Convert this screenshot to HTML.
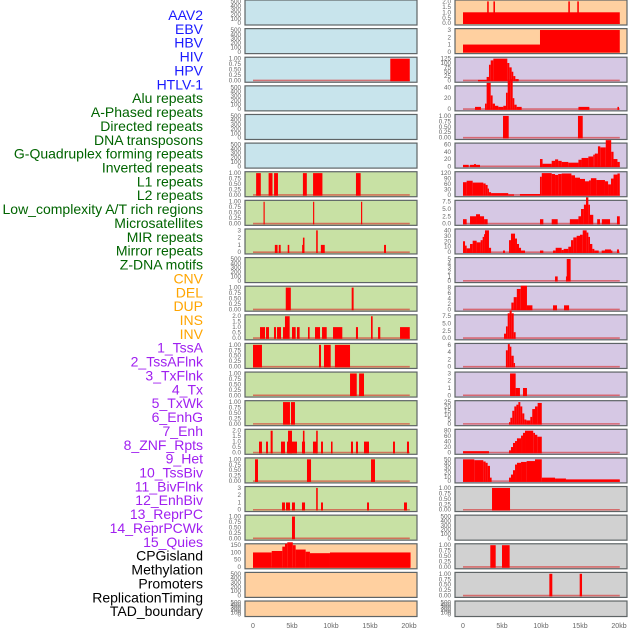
<!DOCTYPE html>
<html><head><meta charset="utf-8"><style>
html,body{margin:0;padding:0;background:#fff;width:630px;height:630px;overflow:hidden}
svg{display:block;font-family:"Liberation Sans",sans-serif}
</style></head><body>
<svg id="chart" width="630" height="630" viewBox="0 0 630 630" xmlns="http://www.w3.org/2000/svg"></svg>
<script>
// ---- track names ----
const labels=["AAV2","EBV","HBV","HIV","HPV","HTLV-1","Alu repeats","A-Phased repeats","Directed repeats","DNA transposons","G-Quadruplex forming repeats","Inverted repeats","L1 repeats","L2 repeats","Low_complexity A/T rich regions","Microsatellites","MIR repeats","Mirror repeats","Z-DNA motifs","CNV","DEL","DUP","INS","INV","1_TssA","2_TssAFlnk","3_TxFlnk","4_Tx","5_TxWk","6_EnhG","7_Enh","8_ZNF_Rpts","9_Het","10_TssBiv","11_BivFlnk","12_EnhBiv","13_ReprPC","14_ReprPCWk","15_Quies","CPGisland","Methylation","Promoters","ReplicationTiming","TAD_boundary"];
const labelGroups=["v","v","v","v","v","v","r","r","r","r","r","r","r","r","r","r","r","r","r","s","s","s","s","s","c","c","c","c","c","c","c","c","c","c","c","c","c","c","c","o","o","o","o","o"];
// ---- tick label sets ----
const T500=["0","100","200","300","400","500"];
const T1=["0.00","0.25","0.50","0.75","1.00"];
const T2=["0.0","0.5","1.0","1.5","2.0"];
const T3=["0","1","2","3"];
const T150=["0","50","100","150"];
const T125=["0","25","50","75","100","125"];
const T40=["0","20","40"];
const T60=["0","20","40","60"];
const T120=["0","30","60","90","120"];
const T75=["0.0","2.5","5.0","7.5"];
const T40b=["0","10","20","30","40"];
const T5=["0","1","2","3","4","5"];
const T8=["0","2","4","6","8"];
const T6=["0","2","4","6"];
const T25=["0","5","10","15","20","25"];
const T80=["0","20","40","60","80"];
const T50=["0","10","20","30","40","50"];
const xTicks=[0,5,10,15,20];
const xTickLabels=["0","5kb","10kb","15kb","20kb"];
// ---- segment data [startKb,endKb,value] ----
const L3=[[17.6,20.1,1]];
const L7=[[0.4,1.0,1],[2.0,2.5,1],[2.7,3.2,1],[6.4,6.9,1],[7.7,8.9,1],[13.2,13.8,1]];
const L8=[[1.35,1.5,1],[7.7,7.85,1],[13.85,14.0,1]];
const L9=[[2.8,3.15,1],[3.3,3.55,1],[4.45,4.65,1],[6.3,6.5,1],[6.4,6.6,2],[8.1,8.3,3],[8.7,9.2,1],[16.8,17.05,1]];
const L11=[[4.2,4.85,1],[12.65,12.9,1]];
const L12=[[0.9,1.54,1],[1.67,2.05,1],[2.69,2.95,1],[3.08,3.59,1],[3.85,4.1,1],[4.1,4.7,2],[5.0,5.47,1],[5.64,5.98,1],[7.05,7.26,1],[7.95,8.59,1],[8.85,9.45,1],[10.26,11.45,1],[13.2,13.46,1],[15.13,15.34,2],[16.03,16.32,1],[18.85,20.1,1]];
const L13=[[0,1.15,1],[8.46,8.72,1],[9.1,9.96,1],[10.5,12.44,1]];
const L14=[[12.44,13.3,1],[13.6,14.23,1]];
const L15=[[3.85,4.74,1],[4.87,5.38,1]];
const L16=[[0.77,1.15,1],[1.67,1.92,1],[2.26,2.52,2],[3.59,4.1,1],[4.36,5.64,1],[4.49,5.0,2],[6.28,6.67,1],[6.4,6.6,2],[7.69,8.21,1],[8.1,8.3,2],[8.72,8.97,1],[10.0,10.2,1],[12.56,12.82,1],[13.2,13.46,1],[14.23,14.87,1],[17.95,18.2,1],[19.74,20.0,1]];
const L17=[[0.26,0.64,1],[6.92,7.44,1],[15.13,15.64,1]];
const L18=[[3.72,4.1,1],[4.23,4.74,1],[5.0,5.38,1],[6.28,6.67,1],[8.1,8.3,3],[8.72,8.97,1],[14.62,14.87,1],[19.36,19.74,1]];
const L19=[[5.0,5.38,1]];
const L20=[[0,2.4,100],[2.4,3.76,110],[3.76,4.1,140],[4.1,4.4,160],[4.4,5.1,170],[5.1,5.47,150],[5.47,6.75,120],[6.75,7.3,105],[7.3,9.87,95],[9.87,20.2,100]];
const R1=[[0,20.1,1],[3.1,3.3,2],[3.9,4.1,2],[13.5,13.7,2],[14.65,14.85,2]];
const R2=[[0,9.87,1],[9.87,20.1,3]];
const R3=[[1.92,3.03,3],[3.03,3.33,20],[3.33,3.55,90],[3.55,3.89,115],[3.89,5.68,125],[5.68,5.94,100],[5.94,6.24,75],[6.24,6.45,50],[6.45,6.71,25],[6.71,7.14,8]];
const R4=[[1.54,2.3,4],[2.82,3.03,10],[3.03,3.55,48],[3.55,3.8,25],[3.8,4.1,10],[4.1,4.53,6],[4.53,5.17,4],[5.17,5.51,6],[5.51,5.73,30],[5.73,6.11,52],[6.11,6.37,55],[6.37,6.58,20],[6.58,6.88,8],[6.88,7.52,4],[14.8,16.2,4],[19.8,20.0,4]];
const R5=[[5.13,5.86,1],[14.74,15.35,1]];
const R6=[[0,0.73,4],[0.9,1.41,4],[1.41,1.67,6],[1.67,2.18,4],[9.87,10.2,20],[10.2,11.37,7],[11.37,11.8,15],[11.8,12.2,19],[12.2,12.65,15],[12.65,13.5,12],[13.5,14.8,10],[14.8,15.2,18],[15.2,16.07,23],[16.07,16.7,27],[16.7,16.9,32],[16.9,17.3,35],[17.3,17.6,55],[17.6,18.3,52],[18.3,19.0,72],[19.0,19.3,40],[19.3,19.8,20],[19.8,20.1,12]];
const R7=[[0,0.47,70],[0.47,1.24,78],[1.24,2.6,68],[2.6,2.9,63],[2.9,3.16,55],[3.16,3.33,35],[3.33,3.6,15],[3.6,5.8,10],[5.8,6.54,3],[7.3,9.87,5],[9.87,10.1,100],[10.1,11.37,120],[11.37,11.8,115],[11.8,12.2,110],[12.2,12.65,115],[12.65,13.9,118],[13.9,14.36,108],[14.36,15.0,95],[15.0,15.64,88],[15.64,16.15,75],[16.15,16.4,80],[16.4,17.1,92],[17.1,18.2,82],[18.2,18.6,75],[18.6,18.97,58],[18.97,19.3,90],[19.3,19.8,112],[19.8,20.1,118]];
const R8=[[0,0.47,1.5],[0.9,1.67,2.5],[1.67,2.18,3.2],[2.18,2.7,2.5],[2.7,3.16,1.5],[9.87,10.3,1.5],[11.37,12.14,1.5],[13.7,14.8,1.5],[14.8,15.13,2.5],[15.13,15.5,5],[15.5,15.77,6.5],[15.77,16.07,9],[16.07,16.28,6.5],[16.28,16.7,3],[17.2,17.56,1.5],[17.8,18.85,1.5],[19.74,20.1,2.5]];
const R9=[[0,0.26,20],[0.26,0.47,12],[0.47,0.9,7],[0.9,1.24,15],[1.24,1.75,21],[1.75,2.26,18],[2.26,2.52,22],[2.52,2.7,28],[2.7,2.82,33],[2.82,3.33,40],[3.33,3.6,8],[5.13,5.38,3],[5.9,6.15,22],[6.15,6.67,34],[6.67,6.92,25],[6.92,7.18,15],[7.18,7.44,8],[7.44,7.95,3],[9.87,10.3,3],[11.54,11.88,3],[11.88,12.65,8],[12.65,12.9,4],[12.9,13.5,6],[13.5,13.85,10],[13.85,14.14,22],[14.14,14.57,27],[14.57,15.0,30],[15.0,15.35,32],[15.35,15.85,40],[15.85,16.07,36],[16.07,16.28,28],[16.28,16.58,15],[16.58,16.84,6],[16.84,17.4,3],[17.78,18.2,3],[18.2,18.97,5],[18.97,19.15,3],[19.74,20.0,5]];
const R10=[[11.8,12.14,1],[13.2,13.3,1],[13.3,13.8,5]];
const R11=[[6.2,6.5,2.5],[6.5,6.9,4.5],[6.9,7.4,7.5],[7.4,8.2,8.7],[8.2,8.9,1.5],[11.54,12.05,1.5],[12.95,13.6,1.5]];
const R12=[[5.26,5.51,1.5],[5.51,5.73,4],[5.73,5.98,8.5],[5.98,6.24,9.5],[6.24,6.5,8.5],[6.5,6.75,2]];
const R13=[[5.5,5.75,4.5],[5.75,6.0,6.2],[6.0,6.2,5.5],[6.2,6.5,3],[6.5,6.67,1]];
const R14=[[6.03,6.75,3],[6.75,7.3,1],[7.69,8.2,1]];
const R15=[[5.9,6.07,2],[6.07,6.32,7],[6.32,6.58,15],[6.58,6.84,20],[6.84,7.1,22],[7.1,7.35,25],[7.35,7.6,20],[7.6,7.86,12],[7.86,8.12,5],[8.12,8.63,4],[8.63,8.88,8],[8.88,9.23,17],[9.23,9.57,20],[9.57,10.1,24]];
const R16=[[0,3.33,5],[5.9,6.15,8],[6.15,6.41,20],[6.41,6.67,35],[6.67,6.92,42],[6.92,7.44,52],[7.44,7.69,62],[7.69,7.95,72],[7.95,9.0,80],[9.0,9.23,72],[9.23,9.53,65],[9.53,10.1,58]];
const R17=[[0,1.45,50],[1.45,2.6,48],[2.6,2.9,45],[2.9,3.16,42],[3.16,3.46,35],[3.46,3.67,8],[5.9,6.15,8],[6.15,6.41,15],[6.41,6.67,25],[6.67,6.92,38],[6.92,7.44,42],[7.44,8.16,44],[8.16,9.23,46],[9.23,10.1,50],[10.1,11.8,8],[11.8,13.2,6],[13.2,20.1,4]];
const R18=[[3.72,6.03,1]];
const R20=[[3.5,4.19,1],[5.0,5.98,1]];
const R21=[[11.07,11.45,1],[14.96,15.26,1]];

const BG={b:"#c8e4ec",g:"#c8e1a4",o:"#ffd0a0",p:"#d6c8e4",y:"#d1d1d1"};
// panel layout: [col,row,bg,ticks,segs,name]
const panels=[
[0,0,"b",T500,null,"aav2"],[0,1,"b",T500,null,"ebv"],[0,2,"b",T1,L3,"hbv"],[0,3,"b",T500,null,"hiv"],[0,4,"b",T500,null,"hpv"],[0,5,"b",T500,null,"htlv1"],
[0,6,"g",T1,L7,"alu"],[0,7,"g",T1,L8,"a-phased"],[0,8,"g",T3,L9,"directed"],[0,9,"g",T500,null,"dna-transposons"],[0,10,"g",T1,L11,"g-quadruplex"],[0,11,"g",T2,L12,"inverted"],[0,12,"g",T1,L13,"l1"],[0,13,"g",T1,L14,"l2"],[0,14,"g",T1,L15,"low-complexity"],[0,15,"g",T2,L16,"microsatellites"],[0,16,"g",T1,L17,"mir"],[0,17,"g",T3,L18,"mirror"],[0,18,"g",T1,L19,"z-dna"],
[0,19,"o",T150,L20,"cpg-left"],[0,20,"o",T500,null,"empty-a"],[0,21,"o",T500,null,"empty-b"],
[1,0,"o",T2,R1,"cnv"],[1,1,"o",T3,R2,"del"],
[1,2,"p",T125,R3,"tssa"],[1,3,"p",T40,R4,"tssaflnk"],[1,4,"p",T1,R5,"txflnk"],[1,5,"p",T60,R6,"tx"],[1,6,"p",T120,R7,"txwk"],[1,7,"p",T75,R8,"enhg"],[1,8,"p",T40b,R9,"enh"],[1,9,"p",T5,R10,"znf"],[1,10,"p",T8,R11,"het"],[1,11,"p",T75,R12,"tssbiv"],[1,12,"p",T6,R13,"bivflnk"],[1,13,"p",T3,R14,"enhbiv"],[1,14,"p",T25,R15,"reprpc"],[1,15,"p",T80,R16,"reprpcwk"],[1,16,"p",T50,R17,"quies"],
[1,17,"y",T1,R18,"cpgisland"],[1,18,"y",T500,null,"methylation"],[1,19,"y",T1,R20,"promoters"],[1,20,"y",T1,R21,"replication-timing"],[1,21,"y",T500,null,"tad-boundary"]
];
const NS="http://www.w3.org/2000/svg";
const svg=document.getElementById("chart");
function mk(tag,attrs,parent){const e=document.createElementNS(NS,tag);for(const k in attrs)e.setAttribute(k,attrs[k]);(parent||svg).appendChild(e);return e;}
const colX=[245,455];const PW=172;const ROWH=28.62;
function xScale(col,kb){return colX[col]+8+kb*7.8;}
const COL={v:"#1a1aff",r:"#006400",s:"#ffa500",c:"#a020f0",o:"#000000"};
// labels
labels.forEach((t,i)=>{
  const e=mk("text",{x:203,y:20+i*14.54*41/43,"text-anchor":"end","font-size":"14",fill:COL[labelGroups[i]]});
  e.textContent=t;
  
  
});
panels.forEach(p=>{
  const [col,row,bg,ticks,segs,name]=p;
  const top=row*ROWH, h=row===21?15.5:25;
  const g=mk("g",{});
  
  
  mk("rect",{x:colX[col],y:top,width:PW,height:h,fill:BG[bg],stroke:"#5e6466","stroke-width":1.2},g);
  const vals=ticks.map(Number);const max=vals[vals.length-1];
  const y=v=>top+h-1.8-(v/max)*(h-3.2);
  ticks.forEach((t,i)=>{
    const e=mk("text",{x:colX[col]-4,y:y(vals[i])+2,"text-anchor":"end","font-size":"6.3",fill:"#666"},g);
    e.textContent=t;
    
    
  });
  if(segs){
    const bl=mk("line",{x1:xScale(col,0),x2:xScale(col,20.1),y1:y(0),y2:y(0),stroke:"rgba(215,40,40,0.6)","stroke-width":1.6},g);
    
    
    segs.forEach(s=>{
      const x1=xScale(col,s[0]),x2=xScale(col,s[1]);
      const r=mk("rect",{x:x1,y:y(s[2]),width:Math.max(1,x2-x1),height:y(0)-y(s[2])+0.8,fill:"#ff0000"},g);
      
      
    });
  }
});
[0,1].forEach(col=>{
  xTicks.forEach((v,i)=>{
    const e=mk("text",{x:xScale(col,v),y:628,"text-anchor":"middle","font-size":"7",fill:"#666"});
    e.textContent=xTickLabels[i];
    
    
  });
});
</script>
</body></html>
